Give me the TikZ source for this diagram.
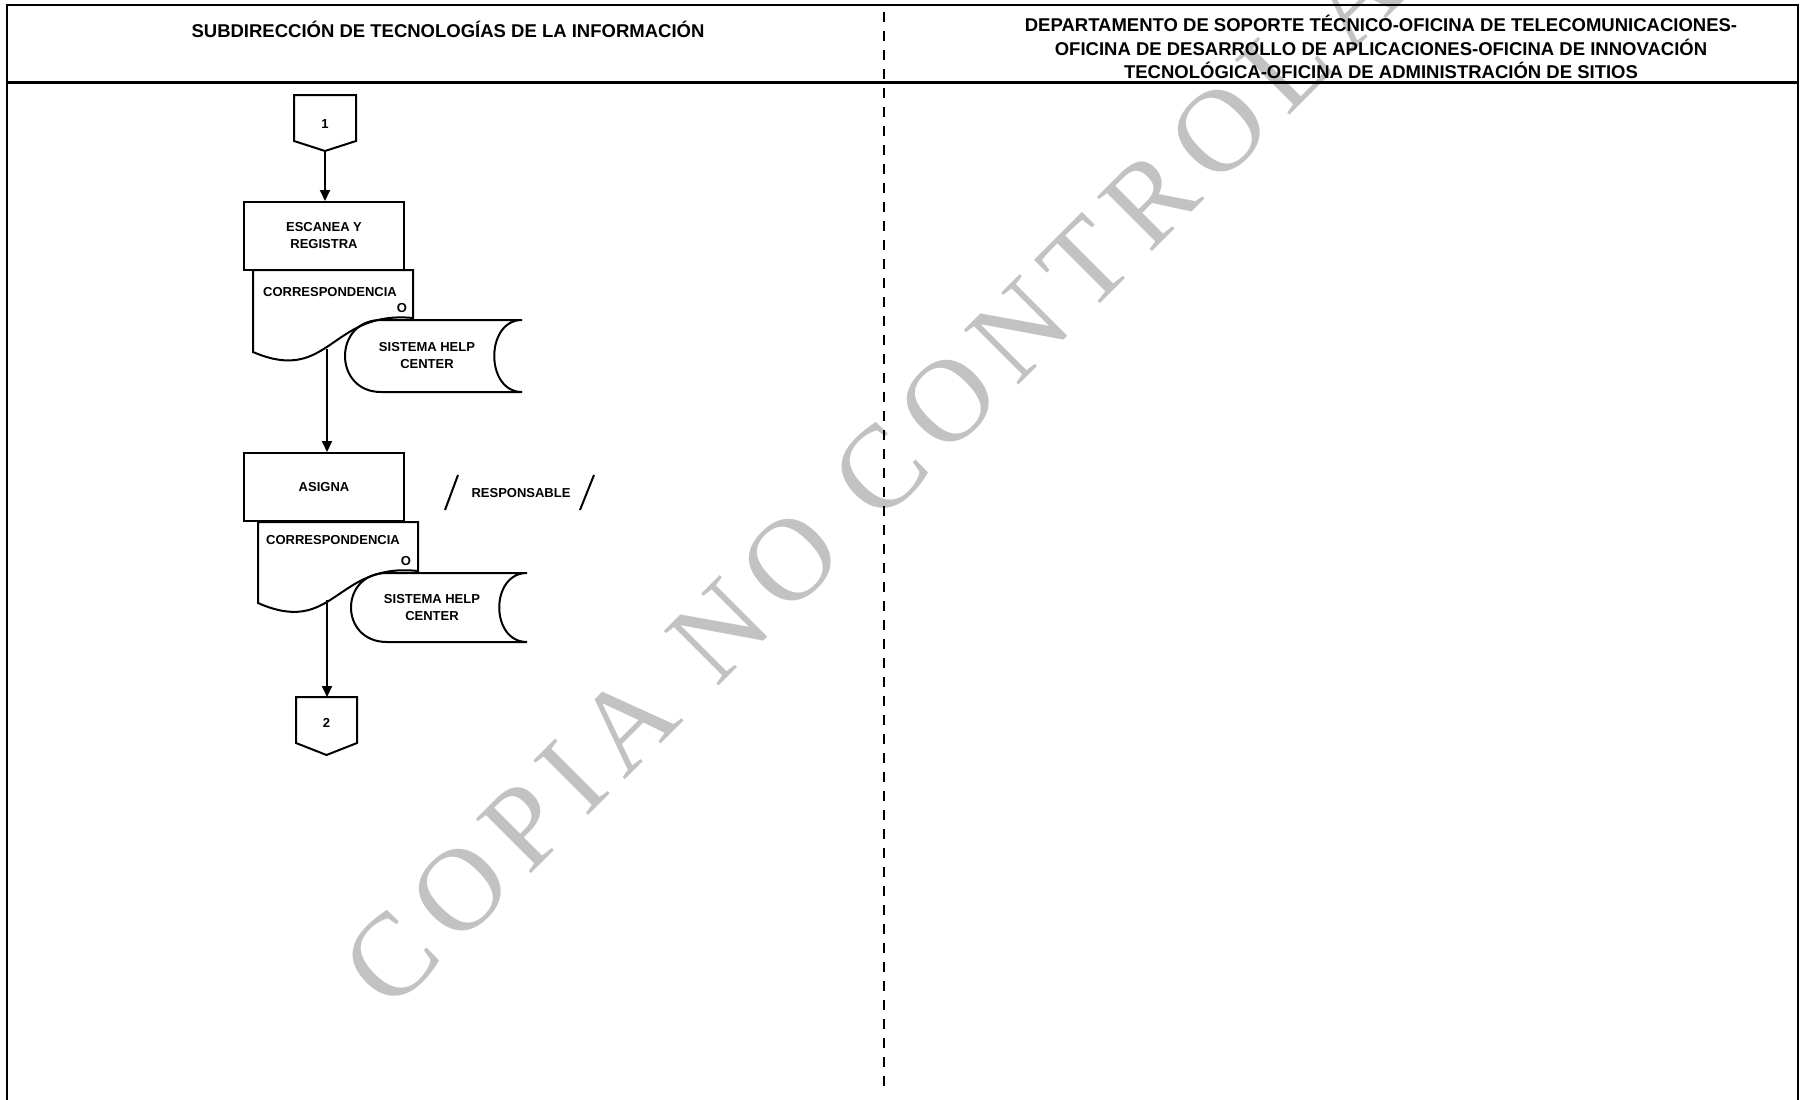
\documentclass[tikz,border=0pt]{standalone}
\usepackage{fontspec}
\setmainfont{Liberation Sans}
\newfontfamily\wmfont[LetterSpace=13]{Liberation Serif}
\usetikzlibrary{arrows.meta}
\definecolor{wmgray}{gray}{0.76}
\begin{document}
\begin{tikzpicture}[x=1pt,y=-1pt,
  shapeline/.style={line width=2pt, line join=miter},
  arr/.style={line width=2pt, -{Triangle[length=11pt,width=10pt]}},
  lbl/.style={inner sep=0pt, font=\fontsize{13}{17}\selectfont\bfseries, align=center},
  head/.style={inner sep=0pt, font=\fontsize{18.5}{23.5}\selectfont\bfseries, align=center},
  procbox/.style={draw, line width=2pt, minimum width=160pt, minimum height=68pt, inner sep=0pt,
    font=\fontsize{13}{17}\selectfont\bfseries, align=center},
  frameline/.style={line width=2pt},
]
\useasboundingbox (0,0) rectangle (1807,1100);

% watermark
\begin{scope}
  \clip (0,0) rectangle (1807,1100);
  \node[rotate=45, text=wmgray, inner sep=0pt,
        font=\wmfont\fontsize{118}{118}\selectfont] (wm) at (944,406) {COPIA NO CONTROLADA};
\end{scope}

% frame and lanes
\draw[frameline] (7,1100) -- (7,5) -- (1798,5) -- (1798,1100);
\draw[line width=3pt] (7,82) -- (1798,82);
\draw[line width=2pt, dash pattern=on 10pt off 9pt] (884,12) -- (884,1087);

\node[head] (lane1) at (448,29) {SUBDIRECCIÓN DE TECNOLOGÍAS DE LA INFORMACIÓN};
\node[head] (lane2) at (1381,47) {DEPARTAMENTO DE SOPORTE TÉCNICO-OFICINA DE TELECOMUNICACIONES-\\
  OFICINA DE DESARROLLO DE APLICACIONES-OFICINA DE INNOVACIÓN\\
  TECNOLÓGICA-OFICINA DE ADMINISTRACIÓN DE SITIOS};

% off-page connector 1
\draw[shapeline] (294,95) -- (356,95) -- (356,141) -- (325,151) -- (294,141) -- cycle;
\node[lbl] (c1) at (325,124) {1};
\coordinate (c1tip) at (325,151);

% process: escanea y registra
\node[procbox] (esc) at (324,236) {ESCANEA Y\\REGISTRA};
\draw[arr] (c1tip) -- (c1tip |- esc.north);

% document + stored data (first)
\draw[shapeline] (253,270) -- (413,270) -- (413,318)
  .. controls (330,310) and (330,385) .. (253,352) -- cycle;
\node[lbl] (doc1) at (330,292) {CORRESPONDENCIA};
\node[lbl] (doc1o) at (402,308) {O};
\draw[shapeline] (381,320) -- (522,320) .. controls (485,320) and (485,392) .. (522,392)
  -- (381,392) .. controls (333,392) and (333,320) .. (381,320) -- cycle;
\node[lbl] (sys1) at (427,355.5) {SISTEMA HELP\\CENTER};
\coordinate (doc1b) at (327,349);

% process: asigna
\node[procbox] (asg) at (324,487) {ASIGNA};
\draw[arr] (doc1b) -- (doc1b |- asg.north);

% responsible
\draw[line width=2pt] (445,510) -- (458,475);
\node[lbl] (resp) at (521,493) {RESPONSABLE};
\draw[line width=2pt] (580,510) -- (594,475);

% document + stored data (second)
\draw[shapeline] (258,522) -- (418,522) -- (418,571)
  .. controls (335,562) and (335,637) .. (258,603) -- cycle;
\node[lbl] (doc2) at (333,540) {CORRESPONDENCIA};
\node[lbl] (doc2o) at (406,561) {O};
\draw[shapeline] (387,573) -- (527,573) .. controls (490,573) and (490,642) .. (527,642)
  -- (387,642) .. controls (339,642) and (339,573) .. (387,573) -- cycle;
\node[lbl] (sys2) at (432,608) {SISTEMA HELP\\CENTER};
\coordinate (doc2b) at (327,600);

% off-page connector 2
\draw[shapeline] (296,697) -- (357,697) -- (357,743) -- (326.5,755) -- (296,743) -- cycle;
\node[lbl] (c2) at (326.5,723) {2};
\coordinate (c2top) at (327,697);
\draw[arr] (doc2b) -- (c2top);
\end{tikzpicture}
\end{document}
